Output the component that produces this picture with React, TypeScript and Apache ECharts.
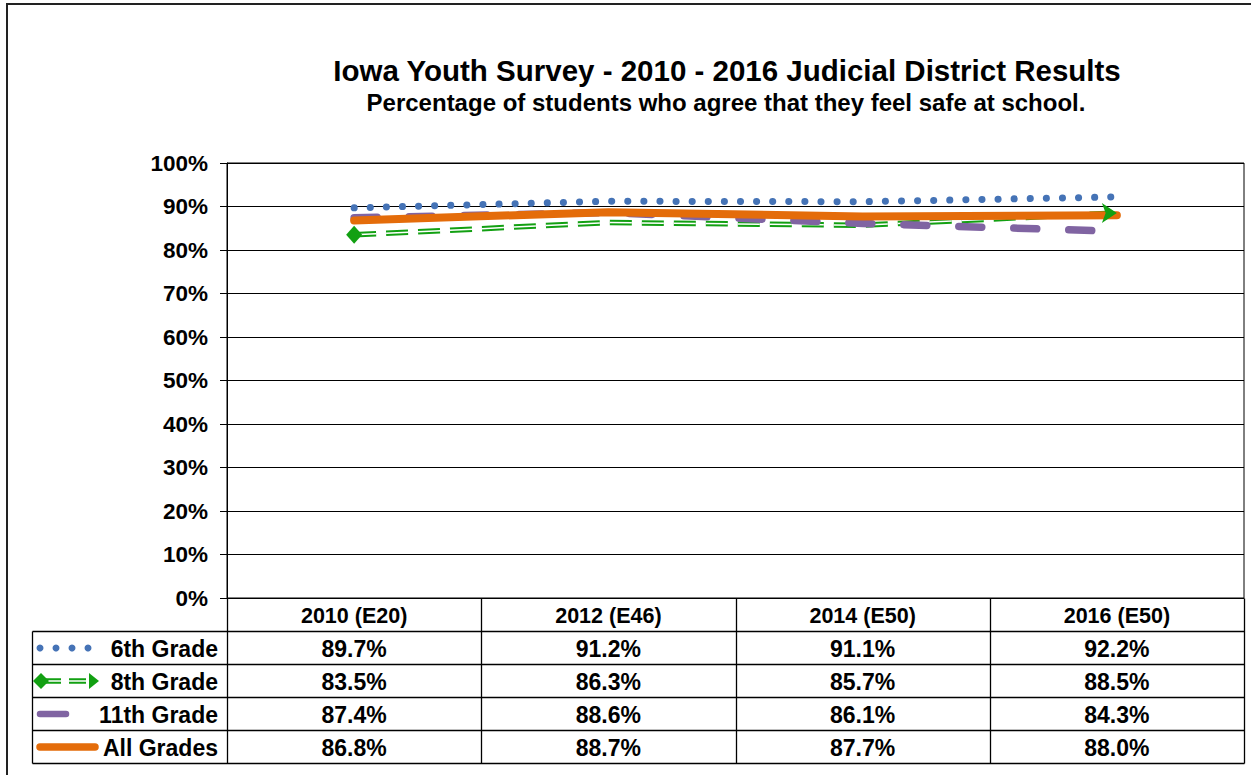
import React, { useEffect, useRef } from "react";
import * as echarts from "echarts";

const titleText = "Iowa Youth Survey - 2010 - 2016 Judicial District Results";
const subtitleText = "Percentage of students who agree that they feel safe at school.";
const categories = ["2010 (E20)", "2012 (E46)", "2014 (E50)", "2016 (E50)"];
const seriesNames = ["6th Grade", "8th Grade", "11th Grade", "All Grades"];
const grade6 = [89.7, 91.2, 91.1, 92.2];
const grade8 = [83.5, 86.3, 85.7, 88.5];
const grade11 = [87.4, 88.6, 86.1, 84.3];
const allGrades = [86.8, 88.7, 87.7, 88.0];
const yMin = 0;
const yMax = 100;
const yInterval = 10;

const FONT = "'Liberation Sans', Arial, sans-serif";
const C6 = "#4573B6";
const C8 = "#12A012";
const C11 = "#8064A2";
const CALL = "#E46C0A";

export default function App() {
  const ref = useRef<HTMLDivElement>(null);
  useEffect(() => {
    const chart = echarts.init(ref.current!, null, { renderer: "svg" });
    const last = grade8.length - 1;
    chart.setOption({
      animation: false,
      backgroundColor: "#fff",
      grid: { left: 227, top: 163, width: 1017, height: 435, show: true, borderColor: "#000", borderWidth: 1 },
      xAxis: {
        type: "category",
        data: categories,
        boundaryGap: true,
        axisLine: { lineStyle: { color: "#000", width: 1 } },
        axisTick: { show: false },
        axisLabel: { show: false },
      },
      yAxis: {
        type: "value",
        min: yMin,
        max: yMax,
        interval: yInterval,
        axisLine: { show: true, lineStyle: { color: "#000", width: 1 } },
        axisTick: { show: true, inside: false, length: 7, lineStyle: { color: "#000" } },
        axisLabel: {
          formatter: "{value}%",
          color: "#000",
          fontFamily: FONT,
          fontWeight: "bold",
          fontSize: 22.5,
          margin: 19,
        },
        splitLine: { show: true, lineStyle: { color: "#000", width: 1 } },
      },
      series: [
        {
          name: seriesNames[0],
          type: "line",
          data: grade6,
          symbol: "none",
          lineStyle: { color: C6, width: 7, type: [0.1, 16], cap: "round" },
        },
        {
          name: seriesNames[1],
          type: "line",
          data: grade8.map((v, i) => ({
            value: v,
            symbol: i === 0 ? "diamond" : i === last ? "arrow" : "none",
            symbolSize: i === 0 ? [16, 18] : [15, 15],
            symbolRotate: i === last ? -90 : 0,
          })),
          showAllSymbol: true,
          itemStyle: { color: C8 },
          lineStyle: { color: C8, width: 5.5, type: [22, 10] },
        },
        {
          name: seriesNames[1] + " inner",
          type: "line",
          data: grade8,
          symbol: "none",
          silent: true,
          lineStyle: { color: "#fff", width: 1.5, type: [22, 10] },
        },
        {
          name: seriesNames[2],
          type: "line",
          data: grade11,
          symbol: "none",
          lineStyle: { color: C11, width: 7.5, type: [23, 32], cap: "round" },
        },
        {
          name: seriesNames[3],
          type: "line",
          data: allGrades,
          symbol: "none",
          lineStyle: { color: CALL, width: 8, cap: "round" },
        },
      ],
    });

    const xs = categories.map((c) => chart.convertToPixel({ xAxisIndex: 0 }, c) as number);
    const band = xs[1] - xs[0];
    const bounds = [xs[0] - band / 2, ...xs.map((x) => x + band / 2)].map((b) => Math.round(b) + 0.5);
    const y0 = Math.round(chart.convertToPixel({ yAxisIndex: 0 }, 0) as number) + 0.5;
    const rowH = 33;
    const legendLeft = 32.5;
    const yBottom = y0 + rowH * 5;
    const els: any[] = [];
    const line = (x1: number, y1: number, x2: number, y2: number, stroke = "#000", lineWidth = 1.3, extra: any = {}) =>
      els.push({ type: "line", shape: { x1, y1, x2, y2 }, style: { stroke, lineWidth, ...extra }, silent: true });
    const text = (t: string, x: number, y: number, size: number, align = "center") =>
      els.push({
        type: "text",
        x,
        y,
        style: { text: t, fill: "#000", fontFamily: FONT, fontWeight: "bold", fontSize: size, align, verticalAlign: "middle" },
        silent: true,
      });

    // outer border
    els.push({ type: "rect", shape: { x: 7, y: 4, width: 1270, height: 800 }, style: { fill: "none", stroke: "#222", lineWidth: 2 }, silent: true });
    text(titleText, 727, 70, 29.5);
    text(subtitleText, 726, 102, 24);

    // table grid
    for (let r = 1; r <= 5; r++) line(legendLeft, y0 + rowH * r, bounds[bounds.length - 1], y0 + rowH * r);
    bounds.forEach((b) => line(b, y0, b, yBottom));
    line(legendLeft, y0 + rowH, legendLeft, yBottom);

    categories.forEach((c, i) => text(c, xs[i], y0 + rowH / 2 + 1, 21.5));
    const rows = [grade6, grade8, grade11, allGrades];
    rows.forEach((vals, r) => {
      const cy = y0 + rowH * (r + 1) + rowH / 2 + 1;
      vals.forEach((v, i) => text(v.toFixed(1) + "%", xs[i], cy, 23));
      text(seriesNames[r], 218, cy, 23, "right");
    });

    // legend keys
    const ky = (r: number) => y0 + rowH * (r + 1) + rowH / 2;
    [40, 56, 72, 88].forEach((x) => els.push({ type: "circle", shape: { cx: x, cy: ky(0), r: 3.5 }, style: { fill: C6 }, silent: true }));
    const k8 = ky(1);
    line(44, k8, 93, k8, C8, 5.5, { lineDash: [17, 8] });
    line(44, k8, 93, k8, "#fff", 1.5, { lineDash: [17, 8] });
    els.push({ type: "polygon", shape: { points: [[33, k8], [41, k8 - 8], [49, k8], [41, k8 + 8]] }, style: { fill: C8 }, silent: true });
    els.push({ type: "polygon", shape: { points: [[89, k8 - 8], [99, k8], [89, k8 + 8]] }, style: { fill: C8 }, silent: true });
    line(40, ky(2), 66, ky(2), C11, 6.5, { lineCap: "round" });
    line(40, ky(3), 95, ky(3), CALL, 7.5, { lineCap: "round" });

    chart.setOption({ graphic: els });
    return () => chart.dispose();
  }, []);
  return (
    <div
      ref={ref}
      style={{ position: "fixed", left: 0, top: 0, width: 1251, height: 775, background: "#fff" }}
    />
  );
}
